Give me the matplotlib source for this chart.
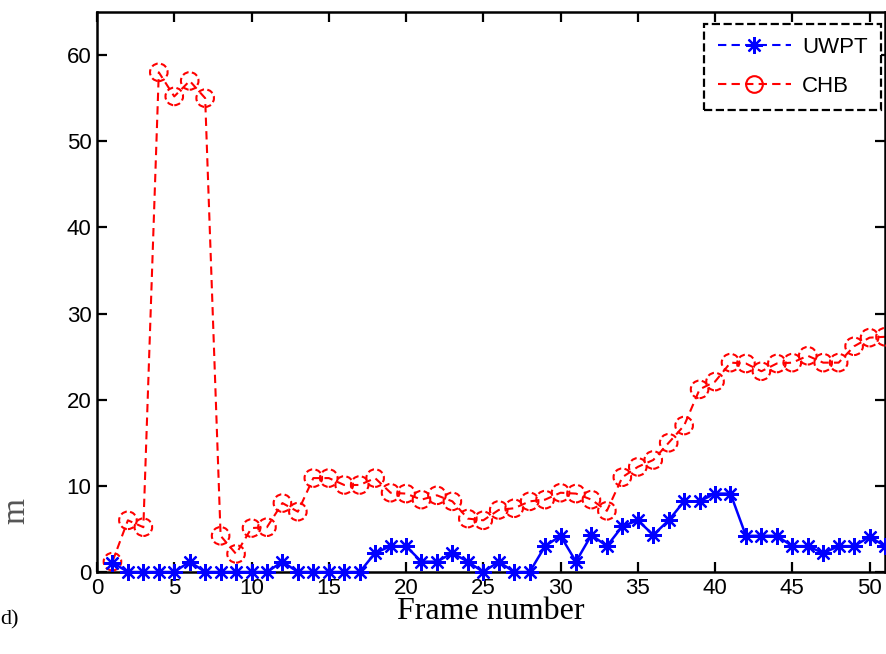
#!/usr/bin/env python3

import matplotlib
matplotlib.use("Agg")
from matplotlib.lines import Line2D
from matplotlib.pyplot import figure, savefig, close

frames = list(range(1, 52))
uwpt = [
    1.1, 0, 0, 0, 0, 1.2, 0, 0, 0, 0,
    0, 1.2, 0, 0, 0, 0, 0, 2.2, 3.0, 3.0,
    1.2, 1.2, 2.2, 1.2, 0, 1.2, 0, 0, 3.0, 4.2,
    1.2, 4.3, 3.0, 5.3, 6.0, 4.3, 6.0, 8.2, 8.2, 9.1,
    9.1, 4.2, 4.2, 4.2, 3.0, 3.0, 2.2, 3.0, 3.0, 4.1,
    3.0,
]
chb = [
    1.2, 6.0, 5.2, 58.0, 55.2, 57.0, 55.0, 4.2, 2.1, 5.1,
    5.2, 8.0, 7.0, 10.9, 10.9, 10.1, 10.1, 10.9, 9.2, 9.1,
    8.4, 8.9, 8.2, 6.2, 6.0, 7.2, 7.4, 8.2, 8.4, 9.2,
    9.1, 8.4, 7.1, 11.0, 12.2, 13.0, 15.0, 17.0, 21.2, 22.1,
    24.3, 24.2, 23.3, 24.2, 24.3, 25.1, 24.3, 24.3, 26.2, 27.2,
    27.3,
]
x_ticks = list(range(0, 51, 5))
y_ticks = list(range(0, 61, 10))

SANS = "Liberation Sans"
SERIF = "Liberation Serif"
ASTERISK = (8, 2, 0)


def main():
    fig = figure(figsize=(8.86, 6.54), dpi=100)
    ax = fig.add_axes([97 / 886, 1 - 572 / 654, 788 / 886, 560 / 654])

    ax.plot(frames, chb, color="r", linestyle=(0, (4, 2.5)), linewidth=1.5,
            zorder=2)
    ax.scatter(frames, chb, s=160, marker="o", facecolors="none",
               edgecolors="r", linewidths=1.5, linestyles=(0, (3, 1.6)),
               zorder=3, clip_on=False)
    ax.plot(frames, uwpt, color="#0000ff", linestyle="-", linewidth=1.8,
            marker=ASTERISK, markersize=12, markeredgewidth=1.6,
            zorder=4, clip_on=False)

    ax.set_xlim(0, 51)
    ax.set_ylim(0, 65)
    ax.set_xticks(x_ticks)
    ax.set_yticks(y_ticks)
    ax.tick_params(direction="in", length=7, width=1.6, top=True, right=True,
                   labelsize=16, pad=4)
    for label in ax.get_xticklabels() + ax.get_yticklabels():
        label.set_family(SANS)
    for spine in ax.spines.values():
        spine.set_linewidth(1.8)
    ax.set_xlabel("Frame number", family=SERIF, fontsize=23, labelpad=-1)

    handles = [
        Line2D([], [], color="#0000ff", linestyle=(0, (4, 2.5)),
               linewidth=1.5, marker=ASTERISK, markersize=12,
               markeredgewidth=1.6),
        Line2D([], [], color="r", linestyle=(0, (4, 2.5)), linewidth=1.5,
               marker="o", markersize=12, markerfacecolor="none",
               markeredgewidth=1.5),
    ]
    leg = ax.legend(handles, ["UWPT", "CHB"], loc="upper right",
                    bbox_to_anchor=(0.995, 0.979), borderaxespad=0,
                    prop={"family": SANS, "size": 16}, handlelength=3.3,
                    handletextpad=0.5, fancybox=False, framealpha=1,
                    borderpad=0.6, labelspacing=0.8)
    frame = leg.get_frame()
    frame.set_edgecolor("k")
    frame.set_linestyle("--")
    frame.set_linewidth(1.6)

    # bits of neighbouring panel text left over from the crop
    fig.text(1 / 886, 1 - 511 / 654, "m", rotation=90, family=SERIF,
             fontsize=24, color="#555555", ha="left", va="center")
    fig.text(0, 1 - 620 / 654, "d)", family=SERIF, fontsize=16,
             ha="left", va="center")

    savefig("out.png", dpi=100)
    close()


if __name__ == "__main__":
    main()
